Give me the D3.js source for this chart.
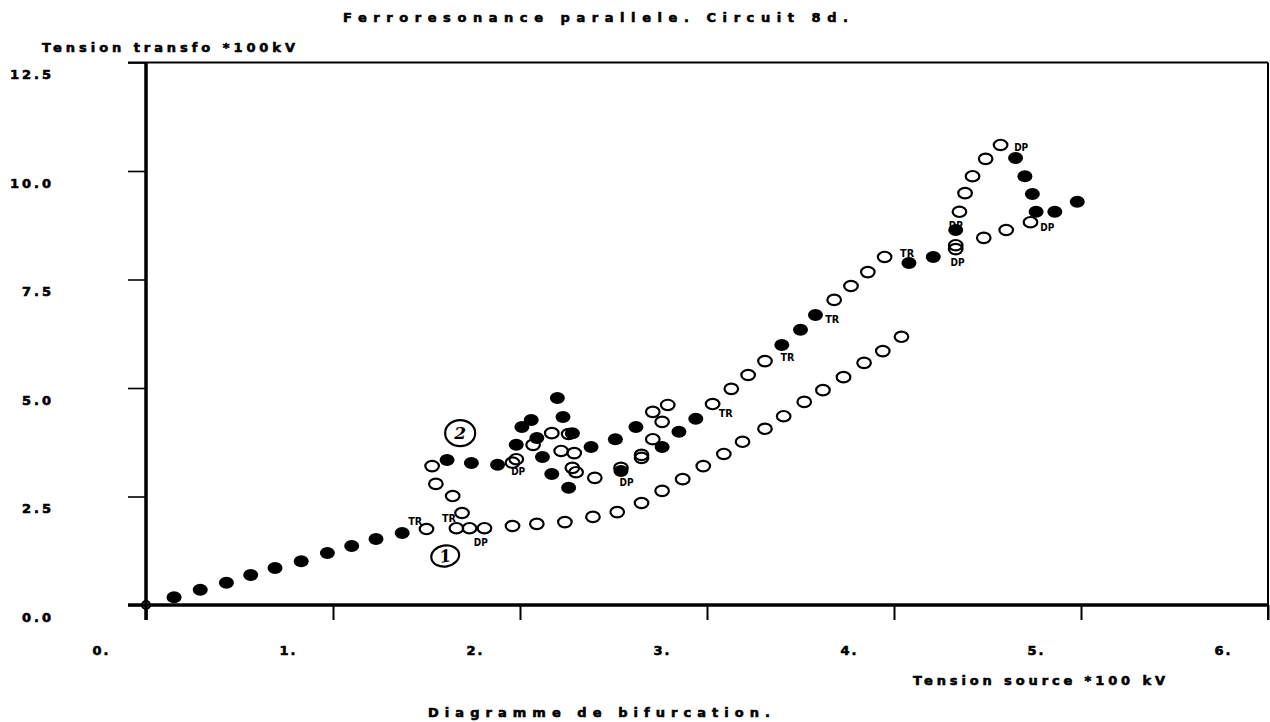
<!DOCTYPE html>
<html><head><meta charset="utf-8">
<script src="https://cdn.jsdelivr.net/npm/d3@7"></script>
<style>
html,body{margin:0;padding:0;background:#fff;}
svg{display:block;}
text{font-family:"DejaVu Sans",sans-serif;font-weight:bold;fill:#000;}
.heavy{stroke:#000;stroke-width:0.6px;}
</style></head>
<body><svg id="c" width="1270" height="722"></svg>
<script>
// ---- data (x: Tension source *100 kV, y: Tension transfo *100kV) ----
const filledX = [0.15,0.29,0.43,0.56,0.69,0.83,0.97,1.10,1.23,1.37,
  1.61,1.74,1.88,1.98,2.01,2.06,2.09,2.12,2.17,2.20,2.23,2.26,2.28,2.38,2.51,2.54,2.62,2.76,2.85,2.94,
  3.40,3.50,3.58,4.08,4.21,4.33,4.65,4.70,4.74,4.76,4.86,4.98];
const filledY = [0.18,0.35,0.51,0.69,0.85,1.01,1.20,1.36,1.52,1.66,
  3.34,3.27,3.23,3.69,4.10,4.26,3.85,3.41,3.02,4.77,4.33,2.70,3.96,3.64,3.82,3.09,4.10,3.64,3.99,4.29,
  5.99,6.34,6.68,7.88,8.02,8.64,10.30,9.88,9.47,9.06,9.06,9.29];

const openX = [0.00,1.50,1.53,1.55,1.64,1.69,1.66,1.73,1.81,
  1.96,2.09,2.24,2.39,2.52,2.65,2.76,2.87,2.98,3.09,3.19,3.31,3.41,3.52,3.62,3.73,3.84,3.94,4.04,
  1.98,1.96,2.07,2.17,2.22,2.29,2.28,2.30,2.26,2.40,2.54,2.65,2.65,2.71,2.76,2.71,2.79,
  3.03,3.13,3.22,3.31,3.68,3.77,3.86,3.95,4.33,4.33,4.35,4.38,4.42,4.49,4.57,4.48,4.60,4.73];
const openY = [0.00,1.75,3.20,2.79,2.51,2.12,1.77,1.77,1.77,
  1.82,1.87,1.91,2.03,2.14,2.35,2.63,2.90,3.20,3.48,3.76,4.06,4.35,4.68,4.95,5.25,5.58,5.85,6.18,
  3.36,3.28,3.69,3.96,3.55,3.50,3.16,3.06,3.94,2.93,3.16,3.39,3.46,3.82,4.22,4.45,4.61,
  4.63,4.98,5.30,5.62,7.03,7.35,7.67,8.02,8.20,8.29,9.06,9.49,9.88,10.28,10.60,8.46,8.64,8.82];

const markText = ["TR","TR","DP","DP","DP","TR","TR","TR","TR","DP","DP","DP","DP"];
const markX = [1.44,1.62,1.79,1.99,2.57,3.10,3.43,3.67,4.07,4.34,4.33,4.68,4.82];
const markY = [1.94,2.00,1.45,3.09,2.83,4.42,5.71,6.59,8.11,7.90,8.76,10.55,8.71];

const branchText = ["2","1"];
const branchX = [1.68,1.60];
const branchY = [3.96,1.13];

const xTicks = [0,1,2,3,4,5,6];
const xTickLabels = ["0.","1.","2.","3.","4.","5.","6."];
const yTicks = [0,2.5,5,7.5,10,12.5];
const yTickLabels = ["0.0","2.5","5.0","7.5","10.0","12.5"];

const titleText = "Ferroresonance parallele. Circuit 8d.";
const yTitle = "Tension transfo *100kV";
const xTitle = "Tension source *100 kV";
const caption = "Diagramme de bifurcation.";

// ---- drawing ----
const svg = d3.select("#c");
const x = d3.scaleLinear().domain([0,6]).range([146,1268]);
const y = d3.scaleLinear().domain([0,12.5]).range([605,62.5]);

// frame: top and right
svg.append("line").attr("x1",128).attr("x2",x(6)).attr("y1",y(12.5)).attr("y2",y(12.5))
  .attr("stroke","#000").attr("stroke-width",2);
svg.append("line").attr("x1",x(6)).attr("x2",x(6)).attr("y1",y(12.5)).attr("y2",620)
  .attr("stroke","#000").attr("stroke-width",2);

// axes
const xAxis = d3.axisBottom(x).tickValues(xTicks).tickSize(15).tickFormat("");
const gx = svg.append("g").attr("transform",`translate(0,${y(0)})`).call(xAxis);
gx.select(".domain").remove();
gx.selectAll(".tick line").attr("stroke","#000").attr("stroke-width",2);
gx.selectAll(".tick").append("text").attr("class","heavy")
  .attr("x",-45).attr("y",50).attr("text-anchor","middle")
  .style("font-size","13px").style("letter-spacing","2px")
  .text((d,i)=>xTickLabels[i]);

const yAxis = d3.axisLeft(y).tickValues(yTicks).tickSize(18).tickFormat("");
const gy = svg.append("g").attr("transform",`translate(${x(0)},0)`).call(yAxis);
gy.select(".domain").remove();
gy.selectAll(".tick line").attr("stroke","#000").attr("stroke-width",1.6);
gy.selectAll(".tick").append("text").attr("class","heavy")
  .attr("x",54-x(0)).attr("y",16).attr("text-anchor","end")
  .style("font-size","13px").style("letter-spacing","3px")
  .text((d,i)=>yTickLabels[i]);

// main axis lines (thick)
svg.append("line").attr("x1",128).attr("x2",x(6)).attr("y1",y(0)).attr("y2",y(0))
  .attr("stroke","#000").attr("stroke-width",3.5);
svg.append("line").attr("x1",x(0)).attr("x2",x(0)).attr("y1",y(12.5)).attr("y2",620)
  .attr("stroke","#000").attr("stroke-width",3.5);

// points
svg.append("g").selectAll("ellipse").data(filledX).join("ellipse")
  .attr("cx",d=>x(d)).attr("cy",(d,i)=>y(filledY[i]))
  .attr("rx",7.5).attr("ry",6).attr("fill","#000");
svg.append("g").selectAll("ellipse").data(openX).join("ellipse")
  .attr("cx",d=>x(d)).attr("cy",(d,i)=>y(openY[i]))
  .attr("rx",(d,i)=>i===0?4:6.8).attr("ry",(d,i)=>i===0?4:5.2)
  .attr("fill","none").attr("stroke","#000").attr("stroke-width",2.2);

// TR / DP marks
svg.append("g").selectAll("text").data(markText).join("text")
  .attr("x",(d,i)=>x(markX[i])).attr("y",(d,i)=>y(markY[i])+4)
  .attr("text-anchor","middle").style("font-size","10px")
  .attr("textLength",14).attr("lengthAdjust","spacingAndGlyphs")
  .text(d=>d);

// circled branch numbers
const bg = svg.append("g").selectAll("g").data(branchText).join("g")
  .attr("transform",(d,i)=>`translate(${x(branchX[i])},${y(branchY[i])}) rotate(${i===0?0:-10})`);
bg.append("ellipse").attr("rx",(d,i)=>i===0?15:14).attr("ry",(d,i)=>i===0?13:10.5)
  .attr("fill","none").attr("stroke","#000").attr("stroke-width",2.2);
bg.append("text").attr("text-anchor","middle").attr("y",6)
  .style("font-family","'DejaVu Serif',serif").style("font-style","italic")
  .style("font-weight","bold").style("font-size","17px").text(d=>d);

// titles
svg.append("text").attr("class","heavy").attr("x",343).attr("y",22).style("font-size","13px")
  .attr("textLength",505).attr("lengthAdjust","spacing").text(titleText);
svg.append("text").attr("class","heavy").attr("x",42).attr("y",52).style("font-size","13px")
  .attr("textLength",253).attr("lengthAdjust","spacing").text(yTitle);
svg.append("text").attr("class","heavy").attr("x",913).attr("y",685).style("font-size","13px")
  .attr("textLength",252).attr("lengthAdjust","spacing").text(xTitle);
svg.append("text").attr("class","heavy").attr("x",428).attr("y",717).style("font-size","13px")
  .attr("textLength",342).attr("lengthAdjust","spacing").text(caption);
</script></body></html>
